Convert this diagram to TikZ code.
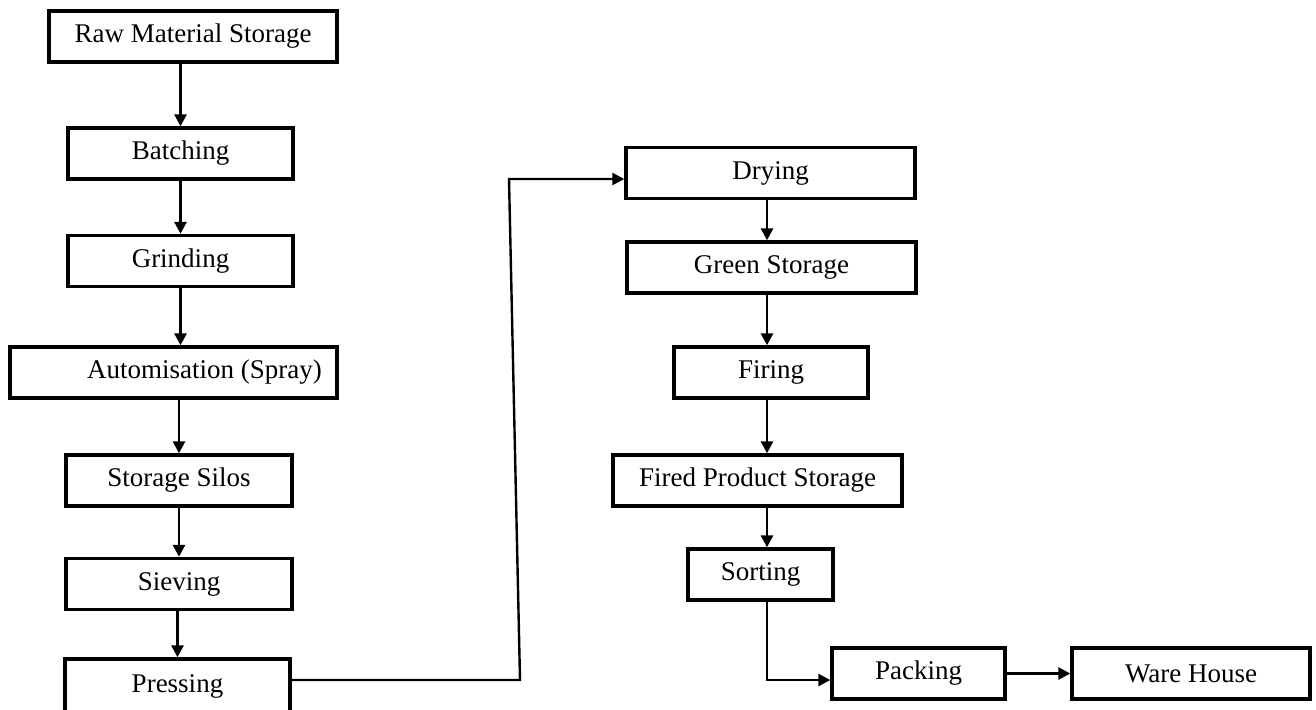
\documentclass[tikz,border=0pt]{standalone}
\usepackage{fontspec}
\setmainfont{Liberation Serif}
\usetikzlibrary{arrows.meta}

\begin{document}
\begin{tikzpicture}[x=0.5pt,y=-0.5pt,
  box/.style={draw,line width=1.7pt,inner sep=0pt,minimum height=25.5pt,
    font=\fontsize{13.5}{16}\selectfont},
  arr/.style={line width=1.4pt,-{Triangle[length=6pt,width=6pt]}}]
  \useasboundingbox (0,0) rectangle (1316,709);
  % left column
  \node[box,minimum width=144pt] (raw) at (193,36.5) {Raw Material Storage};
  \node[box,minimum width=112.5pt] (batch) at (180.5,153.5) {Batching};
  \node[box,minimum width=112.5pt] (grind) at (180.5,261) {Grinding};
  \node[box,minimum width=163.5pt] (atom) at (173.5,372.5) {\hspace*{31pt}Automisation (Spray)};
  \node[box,minimum width=113pt] (silos) at (179,480.5) {Storage Silos};
  \node[box,minimum width=113pt] (sieve) at (179,584) {Sieving};
  \node[box,minimum width=112.5pt,minimum height=27pt] (press) at (177.5,686) {Pressing};
  % right column
  \node[box,minimum width=144.5pt] (dry) at (770.5,173) {Drying};
  \node[box,minimum width=144.5pt] (green) at (771.5,267.5) {Green Storage};
  \node[box,minimum width=97pt] (fire) at (771,372.5) {Firing};
  \node[box,minimum width=144.5pt] (fps) at (757.5,480.5) {Fired Product Storage};
  \node[box,minimum width=72.5pt] (sort) at (760.5,574.5) {Sorting};
  \node[box,minimum width=86.5pt] (pack) at (918.5,673.5) {Packing};
  \node[box,minimum width=119pt] (ware) at (1191,673.5) {Ware House};
  % bends
  \coordinate (k1) at (520,680);
  \coordinate (k2) at (509,179);
  \coordinate (k3) at (767,680);

  \draw[arr] (batch.north |- raw.south) -- (batch.north);
  \draw[arr] (grind.north |- batch.south) -- (grind.north);
  \draw[arr] (grind.south) -- (grind.south |- atom.north);
  \draw[arr] (silos.north |- atom.south) -- (silos.north);
  \draw[arr] (sieve.north |- silos.south) -- (sieve.north);
  \draw[arr] (press.north |- sieve.south) -- (press.north);
  \draw[arr,line width=1.2pt] (press.east |- k1) -- (k1) -- (k2) -- (k2 -| dry.west);
  \draw[arr] (dry.south -| k3) -- (k3 |- green.north);
  \draw[arr] (green.south -| k3) -- (k3 |- fire.north);
  \draw[arr] (fire.south -| k3) -- (k3 |- fps.north);
  \draw[arr] (fps.south -| k3) -- (k3 |- sort.north);
  \draw[arr] (sort.south -| k3) -- (k3) -- (k3 -| pack.west);
  \draw[arr] (pack.east) -- (ware.west);
\end{tikzpicture}
\end{document}
